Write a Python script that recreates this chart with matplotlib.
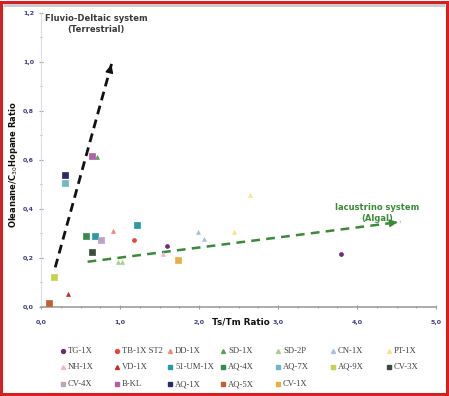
import matplotlib
matplotlib.use("Agg")
import matplotlib.pyplot as plt
from matplotlib.lines import Line2D
from matplotlib.patches import Rectangle
from matplotlib.ticker import MultipleLocator, FuncFormatter

# ---------------- data ----------------
names = ["TG-1X", "TB-1X ST2", "DD-1X", "SD-1X", "SD-2P", "CN-1X", "PT-1X",
         "NH-1X", "VD-1X", "51-UM-1X", "AQ-4X", "AQ-7X", "AQ-9X", "CV-3X",
         "CV-4X", "B-KL", "AQ-1X", "AQ-5X", "CV-1X"]
x_vals = [[1.59, 3.80], [1.18], [0.91], [0.71], [0.98, 1.03], [1.99, 2.06], [2.65, 2.44],
          [1.54], [0.34], [0.68, 1.21], [0.57], [0.31], [0.16], [0.65],
          [0.76], [0.64], [0.31], [0.10], [1.73]]
y_vals = [[0.248, 0.213], [0.270], [0.307], [0.610], [0.180, 0.183], [0.305, 0.276], [0.456, 0.305],
          [0.214], [0.050], [0.290, 0.334], [0.289], [0.504], [0.122], [0.221],
          [0.270], [0.615], [0.538], [0.016], [0.190]]
markers = ["o", "o", "^", "^", "^", "^", "^",
           "^", "^", "s", "s", "s", "s", "s",
           "s", "s", "s", "s", "s"]
colors = ["#6a2c7a", "#e8453c", "#f08878", "#5aa050", "#a8d08d", "#a8c0e4", "#ffe08a",
          "#f2b4c8", "#c0302a", "#2a9ba0", "#3a8a50", "#70b8c4", "#c8d050", "#3a4c40",
          "#bca4c4", "#b060a8", "#2a2a6a", "#c06030", "#e8b040"]

terr_arrow_x = [0.18, 0.90]
terr_arrow_y = [0.16, 1.00]
lac_arrow_x = [0.59, 4.55]
lac_arrow_y = [0.183, 0.346]

# ---------------- figure ----------------
fig = plt.figure(figsize=(4.49, 3.96), dpi=100)
ax = fig.add_axes([41 / 449, 89.5 / 396, 395 / 449, 293.5 / 396])

for n, xs, ys, m, c in zip(names, x_vals, y_vals, markers, colors):
    ms = 13 if m == "s" else 8
    ax.scatter(xs, ys, marker=m, s=ms, color=c, edgecolors=c, linewidths=0.5, zorder=3)

# arrows (dashed shaft + solid head)
ax.plot(terr_arrow_x, terr_arrow_y, color="#111111", lw=2.0, dashes=(3.2, 2.0),
        solid_capstyle="butt", zorder=2)
ax.annotate("", xy=(terr_arrow_x[1], terr_arrow_y[1]),
            xytext=(terr_arrow_x[1] - 0.02, terr_arrow_y[1] - 0.025),
            arrowprops=dict(arrowstyle="-|>,head_length=0.45,head_width=0.22",
                            color="#111111", lw=1.2))
ax.plot(lac_arrow_x, lac_arrow_y, color="#3a8a3a", lw=1.8, dashes=(3.5, 2.5),
        solid_capstyle="butt", zorder=2)
ax.annotate("", xy=(lac_arrow_x[1], lac_arrow_y[1]),
            xytext=(lac_arrow_x[1] - 0.1, lac_arrow_y[1] - 0.004),
            arrowprops=dict(arrowstyle="-|>,head_length=0.45,head_width=0.22",
                            color="#3a8a3a", lw=1.2))

ax.text(0.70, 1.155, "Fluvio-Deltaic system\n(Terrestrial)", ha="center", va="center",
        fontsize=6.0, fontweight="bold", color="#3a3a3a", linespacing=1.2)
ax.text(4.25, 0.382, "lacustrino system\n(Algal)", ha="center", va="center",
        fontsize=6.0, fontweight="bold", color="#3a8a3a", linespacing=1.2)

ax.set_xlim(0, 5)
ax.set_ylim(0, 1.2)
ax.xaxis.set_major_locator(MultipleLocator(1.0))
ax.xaxis.set_minor_locator(MultipleLocator(0.25))
ax.yaxis.set_major_locator(MultipleLocator(0.2))
ax.yaxis.set_minor_locator(MultipleLocator(0.1))
fmt = FuncFormatter(lambda v, p: f"{v:.1f}".replace(".", ","))
ax.xaxis.set_major_formatter(fmt)
ax.yaxis.set_major_formatter(fmt)
ax.tick_params(axis="both", which="both", colors="#a0a0a0", labelcolor="#3c3c8c",
               labelsize=4.5, width=0.8)
ax.tick_params(axis="both", which="major", length=3, direction="inout")
ax.tick_params(axis="both", which="minor", length=2, direction="inout")
ax.tick_params(axis="x", pad=8)
for lab in ax.get_xticklabels() + ax.get_yticklabels():
    lab.set_fontweight("bold")
for s in ["top", "right"]:
    ax.spines[s].set_visible(False)
ax.spines["left"].set_color("#dcdce8")
ax.spines["bottom"].set_color("#a0a0a0")
ax.spines["bottom"].set_linewidth(1.2)

fig.text(241 / 449, 1 - 322 / 396, "Ts/Tm Ratio", ha="center", va="center",
         fontsize=6.3, fontweight="bold", color="#111111")
fig.text(14 / 449, 1 - 165 / 396, "Oleanane/C$_{30}$Hopane Ratio", ha="center", va="center",
         rotation=90, fontsize=6.0, fontweight="bold", color="#111111")

# legend laid out on a 7-column grid as in the reference
col_x = [63, 117, 170, 223, 278, 333, 389]
row_y = [351, 367, 384]
ncol = 7
for i, (n, m, c) in enumerate(zip(names, markers, colors)):
    r, cc = divmod(i, ncol)
    xm = col_x[cc] / 449
    ym = 1 - row_y[r] / 396
    fig.add_artist(Line2D([xm], [ym], marker=m, color=c, linestyle="none",
                          markersize=3.0 if m == "s" else 2.8,
                          transform=fig.transFigure))
    fig.text(xm + 5 / 449, ym, n, ha="left", va="center", family="Liberation Serif",
             fontsize=6.2, color="#444444")

# frame decorations
fig.patches.append(Rectangle((0.003, 0.004), 0.993, 0.992, transform=fig.transFigure,
                             fill=False, edgecolor="#d42020", linewidth=2.2))
fig.patches.append(Rectangle((4 / 449, 1 - 7 / 396), 441 / 449, 3 / 396,
                             transform=fig.transFigure, facecolor="#cccccc",
                             edgecolor="none"))

fig.savefig("out.png", dpi=100)
